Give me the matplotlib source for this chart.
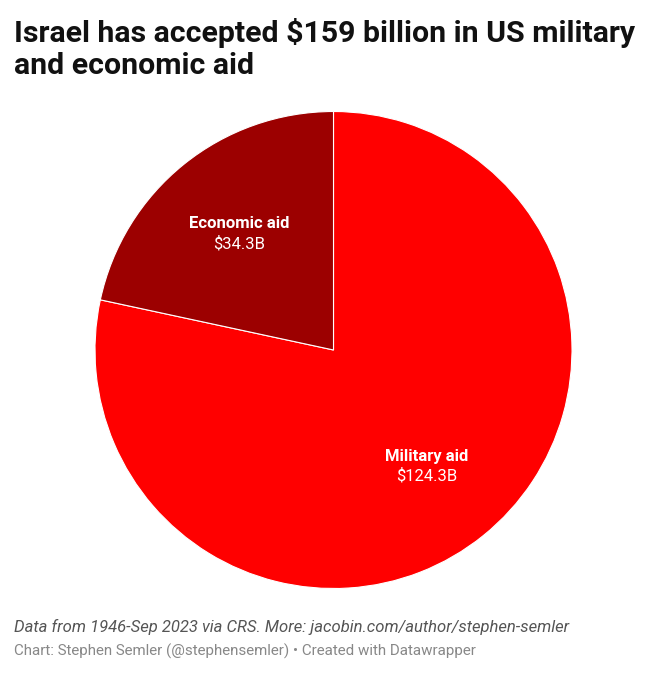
import matplotlib
matplotlib.use("Agg")
import matplotlib.pyplot as plt

categories = ["Military aid", "Economic aid"]
values = [124.3, 34.3]
value_labels = ["$124.3B", "$34.3B"]
colors = ["#ff0000", "#9c0000"]

W, H = 665, 675
fig = plt.figure(figsize=(W / 100, H / 100), dpi=100)
fig.patch.set_facecolor("white")

cx, cy, r = 333.5, 350, 238.5
ax = fig.add_axes([(cx - r) / W, 1 - (cy + r) / H, 2 * r / W, 2 * r / H])
wedges, _ = ax.pie(values, colors=colors, startangle=90, counterclock=False,
                   wedgeprops=dict(edgecolor="white", linewidth=0.8))
ax.set_aspect("equal")
ax.set_xlim(-1, 1)
ax.set_ylim(-1, 1)

# labels
label_pos = {"Military aid": (427, 456), "Economic aid": (239, 224)}
for cat, vl in zip(categories, value_labels):
    x, y = label_pos[cat]
    fig.text(x / W, 1 - y / H, cat, ha="center", va="center", fontsize=12,
             fontweight="bold", color="white", family="Roboto")
    fig.text(x / W, 1 - (y + 20) / H, vl, ha="center", va="center", fontsize=12,
             color="white", family="Roboto")

fig.text(14 / W, 1 - 33 / H, "Israel has accepted $159 billion in US military",
         ha="left", va="center", fontsize=21.8, fontweight="bold", color="#111111",
         family="Roboto")
fig.text(14 / W, 1 - 66 / H, "and economic aid",
         ha="left", va="center", fontsize=21.8, fontweight="bold", color="#111111",
         family="Roboto")

fig.text(14 / W, 1 - 627 / H,
         "Data from 1946-Sep 2023 via CRS. More: jacobin.com/author/stephen-semler",
         ha="left", va="center", fontsize=12, style="italic", color="#555555",
         family="Roboto")
fig.text(14 / W, 1 - 651 / H,
         "Chart: Stephen Semler (@stephensemler) \u2022 Created with Datawrapper",
         ha="left", va="center", fontsize=10.9, color="#888888", family="Roboto")

fig.savefig("out.png", dpi=100, facecolor="white")
